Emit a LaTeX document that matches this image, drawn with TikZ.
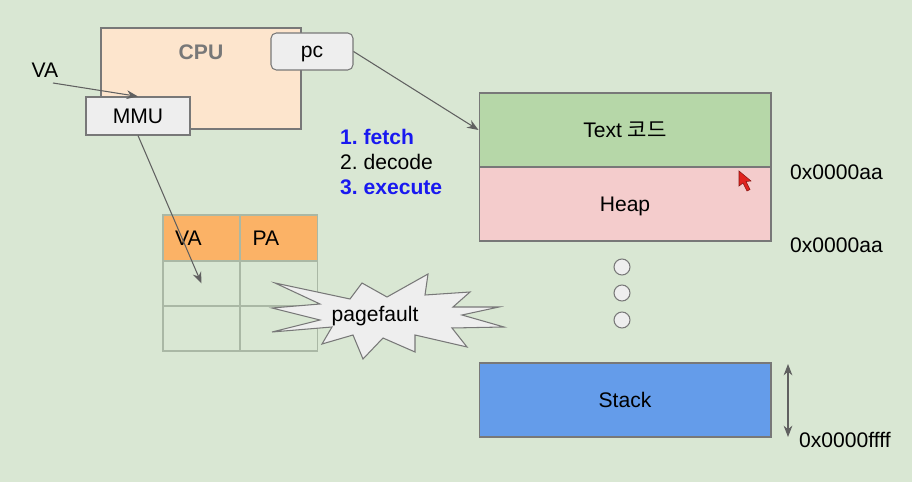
\documentclass[tikz,border=0pt]{standalone}
\usepackage{fontspec}
\setmainfont{Liberation Sans}
\newfontfamily\kofont{Noto Sans CJK KR}
\usetikzlibrary{arrows.meta}
\frenchspacing
\definecolor{bggreen}{RGB}{217,231,211}
\definecolor{cpufill}{RGB}{253,229,205}
\definecolor{regfill}{RGB}{238,238,238}
\definecolor{edgegray}{RGB}{120,120,120}
\definecolor{gridgray}{RGB}{170,184,165}
\definecolor{headorange}{RGB}{251,178,102}
\definecolor{textgreen}{RGB}{182,215,168}
\definecolor{heappink}{RGB}{244,204,204}
\definecolor{stackblue}{RGB}{100,156,234}
\definecolor{listblue}{RGB}{25,25,240}
\definecolor{cursorred}{RGB}{225,35,30}
\tikzset{
  every node/.style={font=\fontsize{12}{14}\selectfont},
  box/.style={draw=edgegray, line width=0.6pt},
  reg/.style={box, fill=regfill, minimum width=#1, minimum height=0.76cm},
  seg/.style={box, fill=#1, minimum width=5.84cm, minimum height=1.48cm, text depth=0pt},
  cell/.style={draw=gridgray, line width=0.6pt, minimum width=1.54cm, minimum height=0.9cm},
  hcell/.style={cell, fill=headorange, minimum height=0.92cm, text width=1.06cm, inner xsep=0.24cm, align=left},
  ptr/.style={draw=edgegray!80!black, line width=0.6pt, -{Stealth[length=6.5pt,width=5pt]}},
  dot/.style={circle, box, fill=regfill, minimum size=0.32cm, inner sep=0pt},
  addr/.style={anchor=west},
}
\begin{document}
\begin{tikzpicture}[x=0.02cm,y=-0.02cm]
\fill[bggreen] (0,0) rectangle (912,482);

\node[box, fill=cpufill, minimum width=4cm, minimum height=2.02cm] (cpu) at (201,78.5) {};
\node[text=edgegray, font=\fontsize{12}{14}\selectfont\bfseries] (cpulbl) at (201,52) {CPU};
\node[reg=1.64cm, minimum height=0.74cm, rounded corners=3pt, text depth=0pt] (pc) at (312,51.5) {pc};
\node[reg=2.08cm] (mmu) at (138,116) {MMU};
\node (va) at (45,70) {VA};

\node[hcell] (hva) at (201.5,238) {VA};
\node[hcell] (hpa) at (279,238) {PA};
\node[cell] (c11) at (201.5,283.5) {};
\node[cell] (c12) at (279,283.5) {};
\node[cell] (c21) at (201.5,328.5) {};
\node[cell] (c22) at (279,328.5) {};

\filldraw[box, fill=regfill] (275,283) -- (350,299) -- (362,283) -- (387,297) -- (428,274)
  -- (425,295) -- (470,292) -- (453,307) -- (499,307) -- (462,315) -- (504,327)
  -- (452,328) -- (467,347) -- (415,335) -- (415,352) -- (383,338) -- (363,359)
  -- (353,335) -- (322,344) -- (332,327) -- (272,332) -- (320,320) -- (272,308)
  -- (320,304) -- cycle;
\node (fault) at (375,316) {pagefault};

\node[anchor=west, align=left] (steps) at (334,162)
  {\textcolor{listblue}{\bfseries 1. fetch}\\ 2. decode\\ \textcolor{listblue}{\bfseries 3. execute}};

\node[seg=textgreen] (text) at (625,130) {Text {\kofont 코드}};
\node[seg=heappink] (heap) at (625,204) {Heap};
\node[seg=stackblue] (stack) at (625,400) {Stack};
\node[dot] (d1) at (622,267) {};
\node[dot] (d2) at (622,293) {};
\node[dot] (d3) at (622,320) {};

\node[addr] (a1) at (784,172) {0x0000aa};
\node[addr] (a2) at (784,245) {0x0000aa};
\node[addr] (a3) at (793,440) {0x0000ffff};

\coordinate (vastart) at (53,83);
\coordinate (sptop) at (788,364);
\coordinate (spbot) at (788,437);

\draw[ptr] (vastart) -- (mmu.north);
\draw[ptr] (mmu.south) -- (c11.center);
\draw[ptr] (pc.east) -- (text.west);
\draw[ptr, {Stealth[length=6.5pt,width=5pt]}-{Stealth[length=6.5pt,width=5pt]}] (sptop) -- (spbot);

\filldraw[fill=cursorred, draw=cursorred!60!black, line width=0.3pt] (739,171) -- (739,186) -- (743,183)
  -- (747,191) -- (750,189.5) -- (746,181.5) -- (751,181) -- cycle;
\end{tikzpicture}
\end{document}
